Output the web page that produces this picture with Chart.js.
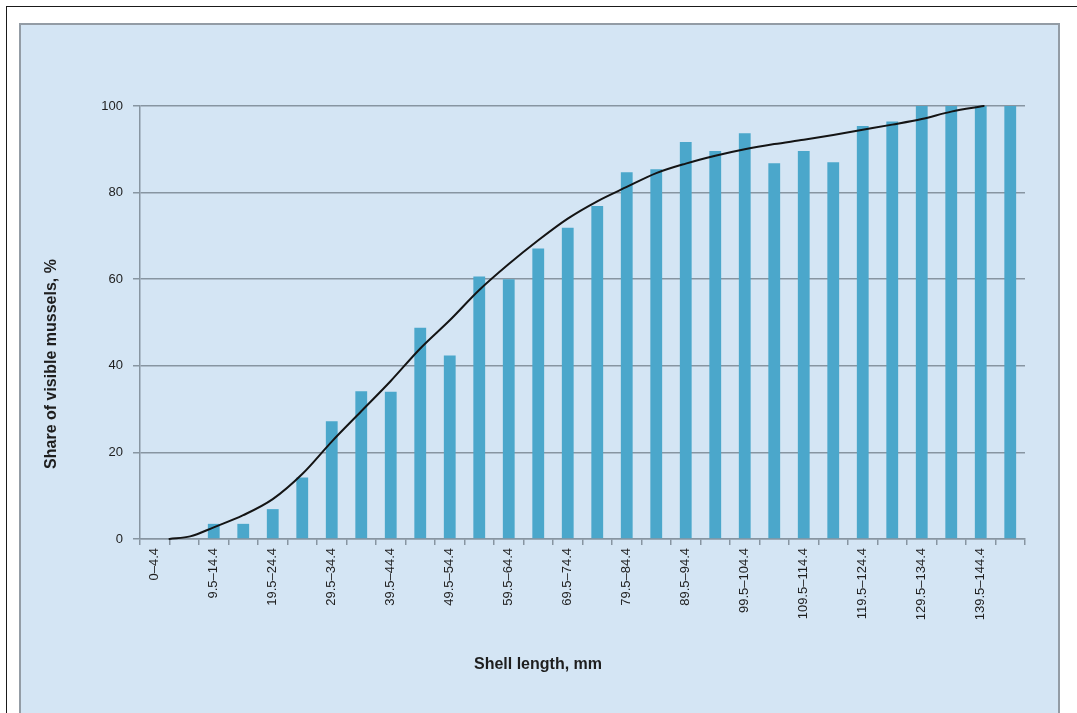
<!DOCTYPE html>
<html>
<head>
<meta charset="utf-8">
<script src="https://cdn.jsdelivr.net/npm/chart.js@4"></script>
<style>
    html, body { margin: 0; padding: 0; background: #ffffff; }
    body { width: 1077px; height: 713px; position: relative; overflow: hidden; }
    #frame {
        position: absolute; left: 6px; top: 6px; width: 1080px; height: 720px;
        border-top: 1.5px solid #1a1a1a; border-left: 1.5px solid #1a1a1a;
    }
    #panel {
        position: absolute; left: 19px; top: 23px; width: 1037px; height: 720px;
        background: #d4e5f4; border: 2px solid #939ca5;
    }
    #musselChart { position: absolute; left: 0; top: 0; }
</style>
</head>
<body>
<div id="frame"></div>
<div id="panel"></div>
<canvas id="musselChart" width="1077" height="713"></canvas>
<script>
// shell length classes, mm
const lengthClasses = [
    '0–4.4', '4.5–9.4', '9.5–14.4', '14.5–19.4', '19.5–24.4', '24.5–29.4',
    '29.5–34.4', '34.5–39.4', '39.5–44.4', '44.5–49.4', '49.5–54.4', '54.5–59.4',
    '59.5–64.4', '64.5–69.4', '69.5–74.4', '74.5–79.4', '79.5–84.4', '84.5–89.4',
    '89.5–94.4', '94.5–99.4', '99.5–104.4', '104.5–109.4', '109.5–114.4', '114.5–119.4',
    '119.5–124.4', '124.5–129.4', '129.5–134.4', '134.5–139.4', '139.5–144.4', '144.5–149.4'
];

// share of visible mussels per class, %
const visibleShare = [
    0, 0, 3.5, 3.5, 6.9, 14.2, 27.2, 34.1, 34.0, 48.8,
    42.4, 60.6, 60.0, 67.1, 71.9, 76.9, 84.7, 85.4, 91.7, 89.6,
    93.7, 86.8, 89.6, 87.0, 95.4, 96.4, 100, 100, 100, 100
];

// fitted curve (shell length mm, share %)
const curveLength = [4.5, 8, 12, 17, 22, 27, 32, 37, 42, 47, 52, 57, 62, 67, 72,
    77, 82, 87, 92, 97, 102, 107, 112, 117, 122, 127, 132, 137, 142.5];
const curveShare = [0, 0.6, 2.7, 5.5, 9.2, 15, 22.5, 29.5, 36.5, 44, 50.5, 57.5, 63.5, 69, 74,
    78, 81.3, 84.5, 86.7, 88.5, 90, 91.2, 92.2, 93.3, 94.5, 95.7, 97, 98.7, 100];

const yTicks = [0, 20, 40, 60, 80, 100];

const fontFamily = '"Liberation Sans", Arial, Helvetica, sans-serif';
const gridColor = '#8795a1';
const textColor = '#1e1e1e';

const axisTitles = {
    id: 'axisTitles',
    afterDraw(chart) {
        const ctx = chart.ctx;
        ctx.save();
        ctx.font = 'bold 16px ' + fontFamily;
        ctx.fillStyle = textColor;
        ctx.textAlign = 'center';
        ctx.textBaseline = 'middle';
        ctx.fillText('Shell length, mm', 538, 665);
        ctx.translate(52, 364);
        ctx.rotate(-Math.PI / 2);
        ctx.fillText('Share of visible mussels, %', 0, 0);
        ctx.restore();
    }
};

function createMusselChart() {
    const ctx = document.getElementById('musselChart').getContext('2d');
    new Chart(ctx, {
        type: 'bar',
        data: {
            labels: lengthClasses,
            datasets: [{
                type: 'line',
                label: 'Fitted curve',
                data: curveLength.map((len, i) => ({ x: len, y: curveShare[i] })),
                xAxisID: 'xl',
                borderColor: '#141414',
                borderWidth: 2,
                pointRadius: 0,
                cubicInterpolationMode: 'monotone',
                borderJoinStyle: 'round',
                borderCapStyle: 'round',
                fill: false,
                clip: 3,
                order: 0
            }, {
                label: 'Share of visible mussels',
                data: visibleShare,
                backgroundColor: '#4ba7cb',
                barPercentage: 0.4,
                categoryPercentage: 1.0,
                grouped: false,
                order: 1
            }]
        },
        options: {
            responsive: false,
            animation: false,
            layout: {
                padding: { left: 0, top: 106, right: 52, bottom: 0 }
            },
            plugins: {
                legend: { display: false },
                tooltip: { enabled: false }
            },
            scales: {
                x: {
                    grid: {
                        display: true,
                        drawOnChartArea: false,
                        color: gridColor,
                        tickLength: 6,
                        lineWidth: 1.5
                    },
                    border: { color: gridColor, width: 1.5 },
                    ticks: {
                        autoSkip: false,
                        maxRotation: 90,
                        minRotation: 90,
                        color: textColor,
                        font: { family: fontFamily, size: 13 },
                        padding: 3,
                        callback: function(value, index) {
                            return index % 2 === 0 ? lengthClasses[index] : '';
                        }
                    },
                    afterFit: function(scale) { scale.height = 174; }
                },
                xl: {
                    type: 'linear',
                    display: false,
                    offset: false,
                    grid: { offset: false },
                    min: -0.5,
                    max: 149.5
                },
                y: {
                    min: 0,
                    max: 100,
                    afterBuildTicks: function(scale) {
                        scale.ticks = yTicks.map(v => ({ value: v }));
                    },
                    grid: {
                        color: gridColor,
                        lineWidth: 1.5,
                        tickLength: 7
                    },
                    border: { color: gridColor, width: 1.5 },
                    ticks: {
                        color: textColor,
                        font: { family: fontFamily, size: 13 },
                        padding: 10
                    },
                    afterFit: function(scale) { scale.width = 140; }
                }
            }
        },
        plugins: [axisTitles]
    });
}

document.addEventListener('DOMContentLoaded', createMusselChart);
</script>
</body>
</html>
